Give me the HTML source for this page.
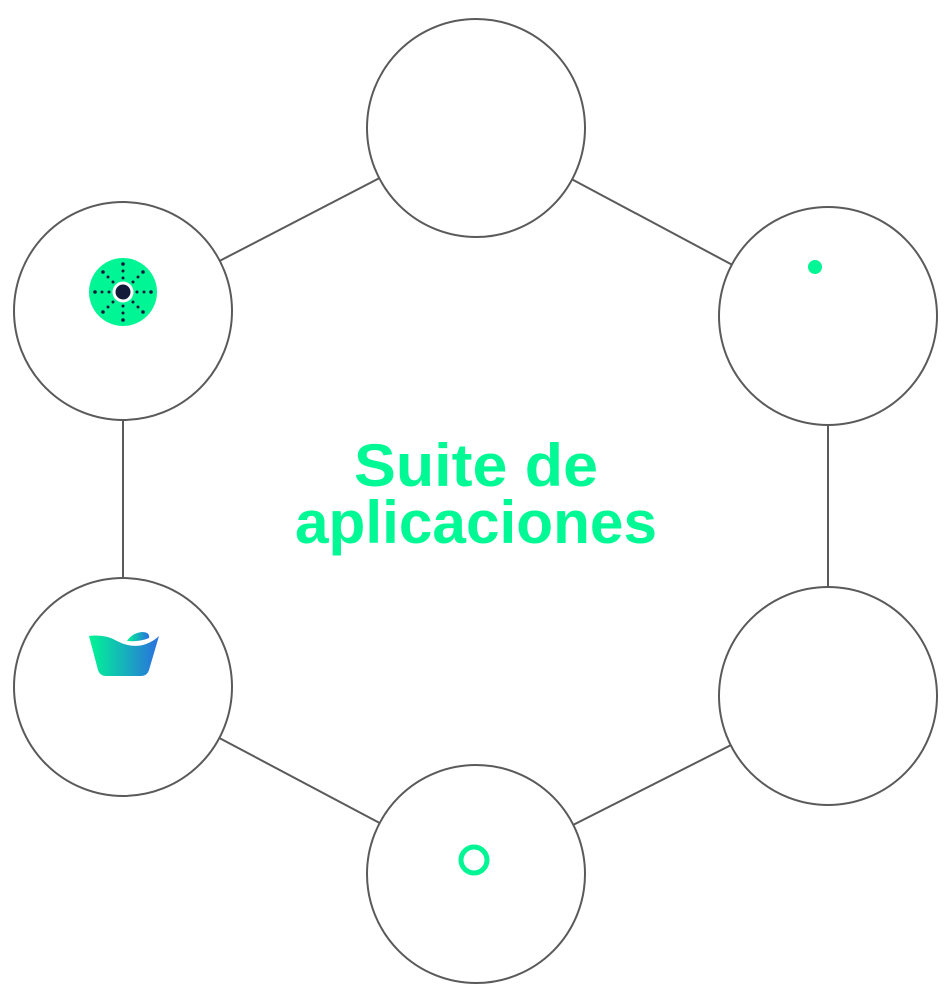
<!DOCTYPE html>
<html><head><meta charset="utf-8"><style>html,body{margin:0;padding:0;background:#fff;}svg{display:block}</style></head>
<body>
<svg width="952" height="1003" viewBox="0 0 952 1003" xmlns="http://www.w3.org/2000/svg">
<defs>
<linearGradient id="g" x1="0" x2="1" y1="0" y2="0"><stop offset="0" stop-color="#00F594"/><stop offset="1" stop-color="#2B6FE0"/></linearGradient>
</defs>
<g stroke="#5a5a5a" stroke-width="2" fill="none">
<line x1="476" y1="128" x2="828" y2="316"/>
<line x1="828" y1="316" x2="828" y2="696"/>
<line x1="828" y1="696" x2="476" y2="874"/>
<line x1="476" y1="874" x2="123" y2="687"/>
<line x1="123" y1="687" x2="123" y2="311"/>
<line x1="123" y1="311" x2="476" y2="128"/>
</g>
<g stroke="#5a5a5a" stroke-width="2" fill="#fff">
<circle cx="476" cy="128" r="109"/>
<circle cx="828" cy="316" r="109"/>
<circle cx="828" cy="696" r="109"/>
<circle cx="476" cy="874" r="109"/>
<circle cx="123" cy="687" r="109"/>
<circle cx="123" cy="311" r="109"/>
</g>
<circle cx="815" cy="267" r="7" fill="#00F594"/>
<circle cx="474" cy="860" r="13" fill="none" stroke="#00F594" stroke-width="5"/>
<circle cx="123" cy="292" r="34" fill="#00F594"/>
<circle cx="123" cy="292" r="9" fill="#131a3a" stroke="#fff" stroke-width="3"/>
<g fill="#131a3a">
<circle cx="123" cy="264" r="1.8"/><circle cx="123" cy="271" r="1.5"/><circle cx="123" cy="278" r="1.5"/>
<circle cx="123" cy="320" r="1.8"/><circle cx="123" cy="313" r="1.5"/><circle cx="123" cy="306" r="1.5"/>
<circle cx="95" cy="292" r="1.8"/><circle cx="102" cy="292" r="1.5"/><circle cx="109" cy="292" r="1.5"/>
<circle cx="151" cy="292" r="1.8"/><circle cx="144" cy="292" r="1.5"/><circle cx="137" cy="292" r="1.5"/>
<circle cx="103" cy="272" r="1.8"/><circle cx="108" cy="277" r="1.5"/><circle cx="113" cy="282" r="1.5"/>
<circle cx="143" cy="272" r="1.8"/><circle cx="138" cy="277" r="1.5"/><circle cx="133" cy="282" r="1.5"/>
<circle cx="103" cy="312" r="1.8"/><circle cx="108" cy="307" r="1.5"/><circle cx="113" cy="302" r="1.5"/>
<circle cx="143" cy="312" r="1.8"/><circle cx="138" cy="307" r="1.5"/><circle cx="133" cy="302" r="1.5"/>
</g>
<path d="M89 636 Q105 634 117 641 Q132 649 146 644 Q154 641 159 636 L149 670 Q147 676 141 676 L106 676 Q100 676 98 670 Z" fill="url(#g)"/>
<path d="M127 641 Q132 633 142 632 Q150 632 149 638 Q140 642 127 641 Z" fill="url(#g)"/>
<g font-family="'Liberation Sans',sans-serif" font-weight="bold" fill="#00F994" font-size="60" text-anchor="middle">
<text x="476" y="486" textLength="244" lengthAdjust="spacingAndGlyphs">Suite de</text>
<text x="476" y="543" textLength="362" lengthAdjust="spacingAndGlyphs">aplicaciones</text>
</g>
</svg>
</body></html>
